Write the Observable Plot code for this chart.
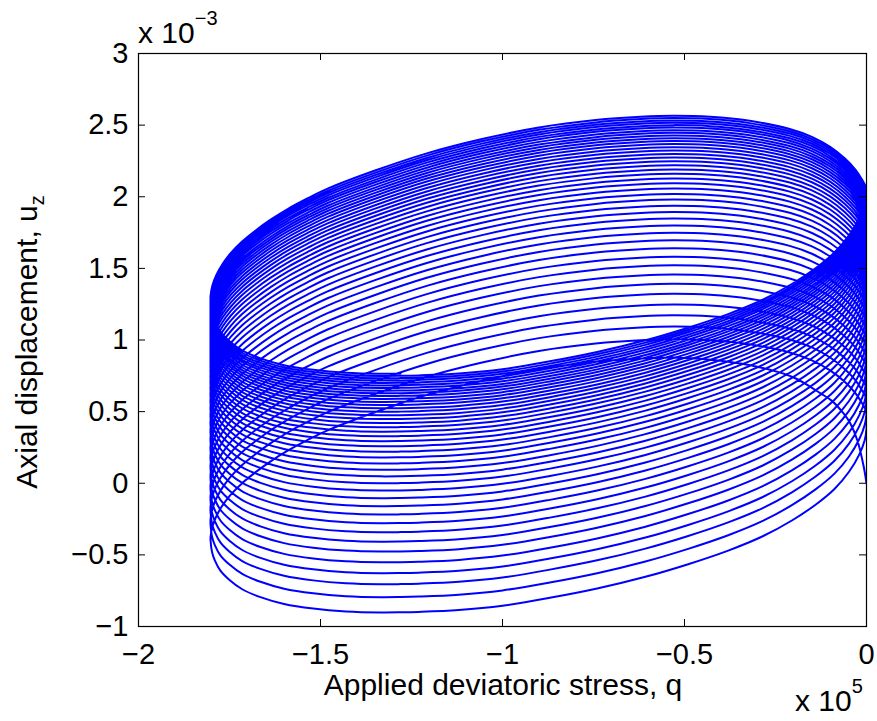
<!DOCTYPE html>
<html>
<head>
<meta charset="utf-8">
<script src="https://cdn.jsdelivr.net/npm/d3@7"></script>
<script src="https://cdn.jsdelivr.net/npm/@observablehq/plot@0.6"></script>
<style>
  body { margin: 0; background: #fff; }
  #chart svg { display: block; }
</style>
</head>
<body>
<div id="chart"></div>
<script>
// Units: q in ×10^5, u_z in ×10^-3 (as printed on the axes)
const xTicks = [-2, -1.5, -1, -0.5, 0];
const yTicks = [-1, -0.5, 0, 0.5, 1, 1.5, 2, 2.5, 3];

// Shape of the outermost (last) upper arc, left to right
const upperQ = [-1.802, -1.797, -1.786, -1.769, -1.746, -1.716, -1.679, -1.637, -1.589, -1.536, -1.479, -1.350, -1.208, -1.056, -0.900, -0.744, -0.620, -0.530, -0.430, -0.321, -0.211, -0.150, -0.100, -0.060, -0.030, -0.012, 0.000];
const upperU = [1.311, 1.383, 1.457, 1.533, 1.610, 1.688, 1.765, 1.842, 1.918, 1.990, 2.060, 2.185, 2.305, 2.405, 2.485, 2.537, 2.560, 2.567, 2.560, 2.532, 2.475, 2.420, 2.350, 2.270, 2.190, 2.120, 2.060];

// Shape of the bottom-most (first) lower arc, left to right
const lowerQ = [-1.802, -1.798, -1.790, -1.775, -1.750, -1.715, -1.665, -1.600, -1.520, -1.430, -1.335, -1.280, -1.230, -1.120, -1.000, -0.870, -0.740, -0.610, -0.490, -0.380, -0.285, -0.205, -0.140, -0.088, -0.048, -0.020, -0.005, 0.000];
const lowerU = [-0.400, -0.480, -0.540, -0.610, -0.675, -0.740, -0.795, -0.843, -0.875, -0.895, -0.902, -0.901, -0.898, -0.885, -0.855, -0.800, -0.735, -0.655, -0.565, -0.470, -0.370, -0.260, -0.150, -0.040, 0.080, 0.200, 0.300, 0.380];

// Initial loading branch from the origin
const firstQ = [0.000, -0.008, -0.025, -0.045, -0.063, -0.095, -0.126, -0.200, -0.291, -0.400, -0.530, -0.620, -0.744, -0.900, -1.056, -1.208, -1.350, -1.479, -1.536, -1.589, -1.637, -1.679, -1.716, -1.746, -1.769, -1.786, -1.797, -1.802];
const firstU = [0.000, 0.120, 0.298, 0.420, 0.487, 0.575, 0.627, 0.738, 0.808, 0.855, 0.878, 0.871, 0.848, 0.796, 0.716, 0.616, 0.496, 0.371, 0.301, 0.229, 0.153, 0.076, -0.001, -0.078, -0.154, -0.230, -0.304, -0.375];

// Peak of each cycle's upper arc and minimum of each cycle's lower arc
const upperPeaks = [0.878, 1.005, 1.095, 1.172, 1.248, 1.323, 1.392, 1.458, 1.521, 1.582, 1.640, 1.696, 1.749, 1.800, 1.848, 1.894, 1.938, 1.980, 2.020, 2.058, 2.094, 2.128, 2.160, 2.191, 2.220, 2.248, 2.274, 2.299, 2.323, 2.346, 2.368, 2.389, 2.409, 2.428, 2.446, 2.465, 2.483, 2.500, 2.517, 2.533, 2.549, 2.565];
const lowerMins = [-0.902, -0.795, -0.705, -0.628, -0.552, -0.477, -0.408, -0.342, -0.279, -0.218, -0.160, -0.104, -0.051, 0.000, 0.048, 0.094, 0.138, 0.180, 0.220, 0.258, 0.294, 0.328, 0.360, 0.391, 0.420, 0.448, 0.474, 0.499, 0.523, 0.546, 0.568, 0.589, 0.609, 0.628, 0.646, 0.665, 0.683, 0.700, 0.717, 0.733, 0.749, 0.765];
const lastEndQ = -1.28;

// Assemble the continuous record
const upperRef = d3.max(upperU);
const lowerRef = d3.min(lowerU);
const record = [];
firstQ.forEach((q, i) => record.push({q, u: firstU[i]}));
for (let k = 0; k < lowerMins.length; k++) {
  if (k > 0) {
    for (let i = upperQ.length - 1; i >= 0; i--) {
      record.push({q: upperQ[i], u: upperU[i] + upperPeaks[k] - upperRef});
    }
  }
  const last = k === lowerMins.length - 1;
  for (let i = 0; i < lowerQ.length; i++) {
    if (last && lowerQ[i] > lastEndQ) break;
    record.push({q: lowerQ[i], u: lowerU[i] + lowerMins[k] - lowerRef});
  }
}

const W = 877, H = 721;
const mL = 138, mR = 11, mT = 53, mB = 95;
const innerW = W - mL - mR, innerH = H - mT - mB;
const tickLen = 7;
const FONT = "'Liberation Sans', Arial, Helvetica, sans-serif";
const fmt = d => String(d).replace("-", "\u2212");

const svg = Plot.plot({
  width: W, height: H,
  marginLeft: mL, marginRight: mR, marginTop: mT, marginBottom: mB,
  style: {fontFamily: FONT, fontSize: "29px", color: "black", background: "white", overflow: "visible"},
  x: {domain: [-2, 0]},
  y: {domain: [-1, 3]},
  marks: [
    Plot.line(record, {x: "q", y: "u", z: null, stroke: "#0000ff", strokeWidth: 2, curve: "catmull-rom", clip: true}),
    Plot.tickX(xTicks, {x: d => d, stroke: "black", strokeWidth: 1, insetTop: innerH - tickLen}),
    Plot.tickX(xTicks, {x: d => d, stroke: "black", strokeWidth: 1, insetBottom: innerH - tickLen}),
    Plot.tickY(yTicks, {y: d => d, stroke: "black", strokeWidth: 1, insetRight: innerW - tickLen}),
    Plot.tickY(yTicks, {y: d => d, stroke: "black", strokeWidth: 1, insetLeft: innerW - tickLen}),
    Plot.frame({stroke: "black", strokeWidth: 1.2}),
    Plot.axisX({ticks: xTicks, tickSize: 0, tickPadding: 17, label: null, fontSize: 29, tickFormat: fmt}),
    Plot.axisY({ticks: yTicks, tickSize: 0, tickPadding: 10, label: null, fontSize: 29, tickFormat: fmt})
  ]
});

const s = d3.select(svg);
const txt = (x, y, opts = {}) => s.append("text")
  .attr("x", x).attr("y", y)
  .attr("font-family", FONT)
  .attr("fill", "black")
  .attr("font-size", opts.size || 30)
  .attr("text-anchor", opts.anchor || "start");

// x label
txt(503, 695, {anchor: "middle"}).text("Applied deviatoric stress, q");

// y label with subscript
const yl = s.append("text")
  .attr("transform", "translate(37,342) rotate(-90)")
  .attr("text-anchor", "middle")
  .attr("font-family", FONT).attr("font-size", 30).attr("fill", "black");
yl.append("tspan").text("Axial displacement, u");
yl.append("tspan").attr("font-size", 20).attr("dy", 7).text("z");

// exponent labels
const e1 = txt(138, 43);
e1.append("tspan").text("x 10");
e1.append("tspan").attr("font-size", 20).attr("dy", -18).text("\u22123");

const e2 = txt(795, 711);
e2.append("tspan").text("x 10");
e2.append("tspan").attr("font-size", 20).attr("dy", -18).text("5");

document.getElementById("chart").appendChild(svg);
</script>
</body>
</html>
